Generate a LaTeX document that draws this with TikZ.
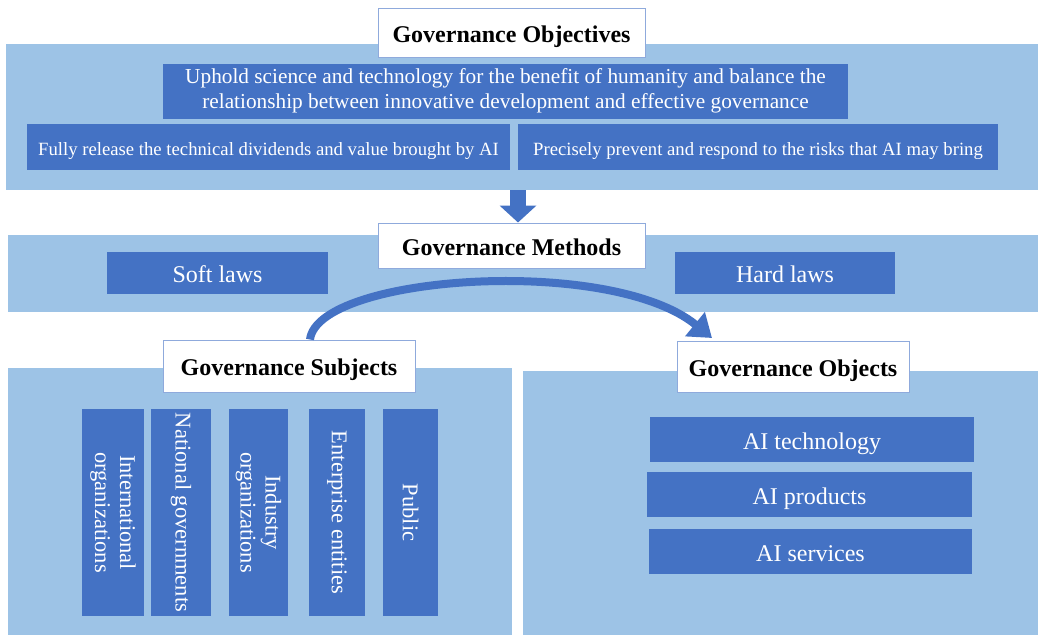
\documentclass[tikz,border=0pt]{standalone}
\usepackage{fontspec}
\setmainfont{Liberation Serif}
\usetikzlibrary{arrows.meta}
\definecolor{pale}{HTML}{9DC3E6}
\definecolor{deep}{HTML}{4472C4}
\definecolor{rim}{HTML}{8FAADC}

\begin{document}
\begin{tikzpicture}[x=1pt,y=-1pt,
    band/.style={fill=pale,inner sep=0pt},
    head/.style={fill=white,draw=rim,line width=1pt,inner sep=0pt,
      text height=20pt,text depth=1pt,font=\fontsize{24}{26}\selectfont\bfseries},
    block/.style={fill=deep,text=white,inner sep=0pt,align=center},
    item/.style={block,text height=20pt,text depth=1pt,font=\fontsize{24}{26}\selectfont},
    upright/.style={block,rotate=-90,minimum width=207pt,font=\fontsize{22.5}{25}\selectfont},
    small/.style={block,text height=17pt,text depth=1pt,font=\fontsize{18.7}{24}\selectfont}]
  \useasboundingbox (0,0) rectangle (1038,635);
  % background bands
  \node[band,minimum width=1032pt,minimum height=146pt] (band1) at (522,117) {};
  \node[band,minimum width=1030pt,minimum height=77pt] (band2) at (523,273.5) {};
  \node[band,minimum width=504pt,minimum height=267pt] (band3) at (260,501.5) {};
  \node[band,minimum width=515pt,minimum height=264pt] (band4) at (780.5,503) {};
  % objectives
  \node[head,minimum width=267pt,minimum height=49pt] (objT) at (511.5,32.5) {Governance Objectives};
  \node[block,minimum width=685pt,minimum height=55pt,font=\fontsize{21.3}{25}\selectfont] (goal) at (505.5,91)
    {Uphold science and technology for the benefit of humanity and balance the\\
     relationship between innovative development and effective governance};
  \node[small,minimum width=483pt,minimum height=46pt] (gain) at (268.5,147)
    {Fully release the technical dividends and value brought by AI};
  \node[small,minimum width=480pt,minimum height=46pt] (risk) at (758,147)
    {Precisely prevent and respond to the risks that AI may bring};
  % methods
  \coordinate (downx) at (518,0);
  \node[head,minimum width=267pt,minimum height=45pt] (metT) at (511.5,245.5) {Governance Methods};
  \draw[deep,line width=16pt,-{Triangle[length=17pt,width=36pt]}]
    (band1.south -| downx) -- (metT.north -| downx);
  \node[item,minimum width=221pt,minimum height=42pt] (soft) at (217.5,273) {Soft laws};
  \node[item,minimum width=220pt,minimum height=42pt] (hard) at (785,273) {Hard laws};
  % subjects and objects
  \node[head,minimum width=252pt,minimum height=52pt] (subT) at (289,366) {Governance Subjects};
  \node[head,minimum width=232pt,minimum height=51pt] (objT2) at (793,366.5) {Governance Objects};
  \coordinate (tip) at (712,338);
  \draw[deep,line width=8pt,-{Triangle[length=22pt,width=30pt]}]
    ([xshift=21pt]subT.north) .. controls (318,275) and (610,255) .. (tip);
  \node[upright,minimum height=62pt] (intl) at (113,512.5) {International\\organizations};
  \node[upright,minimum height=60pt] (natl) at (181,512.5) {National governments};
  \node[upright,minimum height=59pt] (indu) at (258.5,512.5) {Industry\\organizations};
  \node[upright,minimum height=56pt] (firm) at (337,512.5) {Enterprise entities};
  \node[upright,minimum height=55pt] (pub) at (410.5,512.5) {Public};
  \node[item,minimum width=324pt,minimum height=45pt] (tech) at (812,439.5) {AI technology};
  \node[item,minimum width=325pt,minimum height=45pt] (prod) at (809.5,494.5) {AI products};
  \node[item,minimum width=323pt,minimum height=45pt] (serv) at (810.5,551.5) {AI services};
\end{tikzpicture}
\end{document}
